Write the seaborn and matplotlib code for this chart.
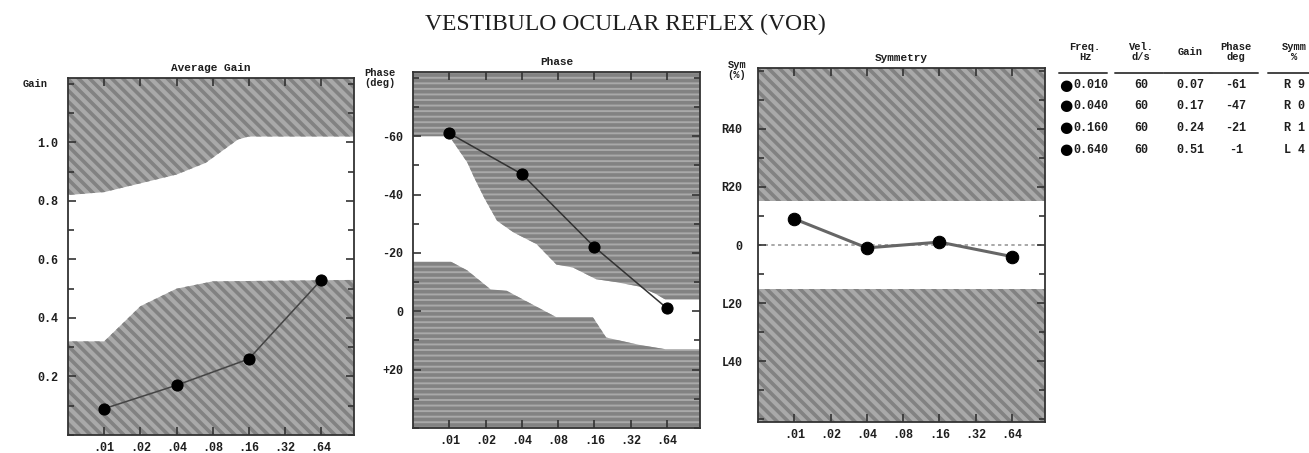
import numpy as np
import pandas as pd
import matplotlib
matplotlib.use("Agg")
import matplotlib.pyplot as plt
import seaborn as sns

# ── data ──────────────────────────────────────────────────────────────────────
freqs = [0.01, 0.04, 0.16, 0.64]
gain = [0.09, 0.17, 0.26, 0.53]
phase = [-61, -47, -22, -1]
symm = [9, -1, 1, -4]

tick_freqs = [0.01, 0.02, 0.04, 0.08, 0.16, 0.32, 0.64]
tick_labels = [".01", ".02", ".04", ".08", ".16", ".32", ".64"]

# normal-range limits (edge of the shaded areas)
gain_up_f = [0.005, 0.01, 0.02, 0.04, 0.07, 0.13, 0.16, 1.2]
gain_up = [0.82, 0.83, 0.86, 0.89, 0.93, 1.01, 1.02, 1.02]
gain_lo_f = [0.005, 0.01, 0.02, 0.04, 0.08, 1.2]
gain_lo = [0.32, 0.32, 0.44, 0.50, 0.525, 0.53]

phase_up_f = [0.005, 0.01, 0.0141, 0.016, 0.0194, 0.0249, 0.0342, 0.053,
              0.0774, 0.106, 0.165, 0.241, 0.375, 0.513, 0.62, 1.2]
phase_up = [-60, -60, -51, -46, -39, -31, -27, -23, -16, -15, -11, -10,
            -8.5, -6, -4, -4]
phase_lo_f = [0.005, 0.0103, 0.0141, 0.022, 0.030, 0.041, 0.077, 0.155,
              0.2, 0.375, 0.62, 1.2]
phase_lo = [-17, -17, -14, -7.5, -7, -4, 2, 2, 9, 11.5, 13, 13]

symm_limit = 15

table_cols = ["Freq.\nHz", "Vel.\nd/s", "Gain", "Phase\ndeg", "Symm\n%"]
table_freq = ["0.010", "0.040", "0.160", "0.640"]
table_vel = ["60", "60", "60", "60"]
table_gain = ["0.07", "0.17", "0.24", "0.51"]
table_phase = ["-61", "-47", "-21", "-1"]
table_symm = ["R 9", "R 0", "R 1", "L 4"]

# ── style ─────────────────────────────────────────────────────────────────────
sns.set_style("ticks")
plt.rcParams["font.family"] = ["Liberation Mono", "DejaVu Sans Mono"]
plt.rcParams["hatch.linewidth"] = 2.6
plt.rcParams["hatch.color"] = "#828282"

GRAY = "#a9a9a9"
XLIM = (0.005, 1.2)
mono = dict(family=["Liberation Mono", "DejaVu Sans Mono"], weight="bold", color="#1e1e1e")

W, H = 1309, 453
fig = plt.figure(figsize=(W / 100, H / 100), dpi=100)


def box(l, r, t, b):
    return [l / W, (H - b) / H, (r - l) / W, (b - t) / H]


ax_g = fig.add_axes(box(68, 354, 78, 435))
ax_p = fig.add_axes(box(413, 700, 72, 428))
ax_s = fig.add_axes(box(758, 1045, 68, 422))


def shade(ax, f, y, other, hatch):
    ax.fill_between(f, y, other, facecolor=GRAY, edgecolor="#828282",
                    hatch=hatch, linewidth=0, zorder=1)


def style_axis(ax, pad_y):
    ax.set_axisbelow(False)
    ax.set_xscale("log")
    ax.set_xlim(*XLIM)
    ax.set_xticks(tick_freqs)
    ax.set_xticklabels(tick_labels)
    ax.xaxis.set_minor_locator(matplotlib.ticker.NullLocator())
    ax.tick_params(axis="both", which="both", direction="in", top=True, right=True,
                   length=6, width=1.2, color="#333333", labelsize=8.5)
    ax.tick_params(axis="y", which="minor", length=4)
    ax.tick_params(axis="y", pad=pad_y)
    ax.tick_params(axis="x", pad=5)
    for lab in ax.get_xticklabels() + ax.get_yticklabels():
        lab.set_fontweight("bold")
        lab.set_color("#1e1e1e")
    for sp in ax.spines.values():
        sp.set_linewidth(1.3)
        sp.set_color("#333333")
        sp.set_zorder(4)
    ax.set_xlabel("")
    ax.set_ylabel("")


# ── average gain ──────────────────────────────────────────────────────────────
g_top, g_bot = 1.22, 0.0
shade(ax_g, gain_up_f, gain_up, g_top, "\\\\\\")
shade(ax_g, gain_lo_f, gain_lo, g_bot, "\\\\\\")
sns.lineplot(x=freqs, y=gain, ax=ax_g, color="#444444", linewidth=1.1,
             marker="o", markersize=8, markerfacecolor="black",
             markeredgecolor="black", zorder=3)
ax_g.set_ylim(g_bot, g_top)
ax_g.set_yticks([0.2, 0.4, 0.6, 0.8, 1.0])
ax_g.set_yticklabels(["0.2", "0.4", "0.6", "0.8", "1.0"])
ax_g.yaxis.set_minor_locator(matplotlib.ticker.MultipleLocator(0.1))
style_axis(ax_g, 7)
ax_g.set_title("Average Gain", fontsize=8, pad=5, **mono)

# ── phase ─────────────────────────────────────────────────────────────────────
p_top, p_bot = -82, 40
shade(ax_p, phase_up_f, phase_up, p_top, "---")
shade(ax_p, phase_lo_f, phase_lo, p_bot, "---")
sns.lineplot(x=freqs, y=phase, ax=ax_p, color="#333333", linewidth=1.1,
             marker="o", markersize=8, markerfacecolor="black",
             markeredgecolor="black", zorder=3)
ax_p.set_ylim(p_bot, p_top)
ax_p.set_yticks([-60, -40, -20, 0, 20])
ax_p.set_yticklabels(["-60", "-40", "-20", "0", "+20"])
ax_p.yaxis.set_minor_locator(matplotlib.ticker.MultipleLocator(10))
style_axis(ax_p, 7)
ax_p.set_title("Phase", fontsize=8, pad=5, **mono)

# ── symmetry ──────────────────────────────────────────────────────────────────
s_lim = 61
shade(ax_s, XLIM, [symm_limit, symm_limit], s_lim, "\\\\\\")
shade(ax_s, XLIM, [-symm_limit, -symm_limit], -s_lim, "\\\\\\")
ax_s.axhline(0, color="#999999", linewidth=1.2, linestyle=(0, (2, 2)), zorder=2)
sns.lineplot(x=freqs, y=symm, ax=ax_s, color="#666666", linewidth=2.2,
             marker="o", markersize=9, markerfacecolor="black",
             markeredgecolor="black", zorder=3)
ax_s.set_ylim(-s_lim, s_lim)
ax_s.set_yticks([-40, -20, 0, 20, 40])
ax_s.set_yticklabels(["L40", "L20", "0", "R20", "R40"])
ax_s.yaxis.set_minor_locator(matplotlib.ticker.MultipleLocator(10))
style_axis(ax_s, 11)
ax_s.set_title("Symmetry", fontsize=8, pad=5, **mono)

# ── axis captions ─────────────────────────────────────────────────────────────
fig.text(35 / W, 1 - 84 / H, "Gain", fontsize=7.5, ha="center", va="center", **mono)
fig.text(380 / W, 1 - 78 / H, "Phase\n(deg)", fontsize=7.5, ha="center", va="center",
         linespacing=0.95, **mono)
fig.text(737 / W, 1 - 70 / H, "Sym\n(%)", fontsize=7.5, ha="center", va="center",
         linespacing=0.95, **mono)

# ── main title ────────────────────────────────────────────────────────────────
fig.text(625 / W, 1 - 24 / H, "VESTIBULO OCULAR REFLEX (VOR)", fontsize=17,
         family=["Liberation Serif", "DejaVu Serif"], color="#1e1e1e",
         ha="center", va="center")

# ── results table ─────────────────────────────────────────────────────────────
col_x = [1085, 1141, 1190, 1236, 1294]
for cx, head in zip(col_x, table_cols):
    fig.text(cx / W, 1 - 52 / H, head, fontsize=7.5, ha="center", va="center",
             linespacing=0.9, **mono)
    fig.add_artist(plt.Line2D([(cx - 26) / W, (cx + 22) / W], [1 - 73 / H, 1 - 73 / H],
                              color="#444444", linewidth=1.4))
row_y = [85, 106, 128, 150]
for i, ry in enumerate(row_y):
    y = 1 - ry / H
    fig.text(1066 / W, y, "●", fontsize=11, ha="center", va="center",
             family=["DejaVu Sans"], color="black")
    fig.text(1091 / W, y, table_freq[i], fontsize=8.5, ha="center", va="center", **mono)
    fig.text(col_x[1] / W, y, table_vel[i], fontsize=8.5, ha="center", va="center", **mono)
    fig.text(col_x[2] / W, y, table_gain[i], fontsize=8.5, ha="center", va="center", **mono)
    fig.text(col_x[3] / W, y, table_phase[i], fontsize=8.5, ha="center", va="center", **mono)
    fig.text(col_x[4] / W, y, table_symm[i], fontsize=8.5, ha="center", va="center", **mono)

fig.savefig("out.png", dpi=100)
